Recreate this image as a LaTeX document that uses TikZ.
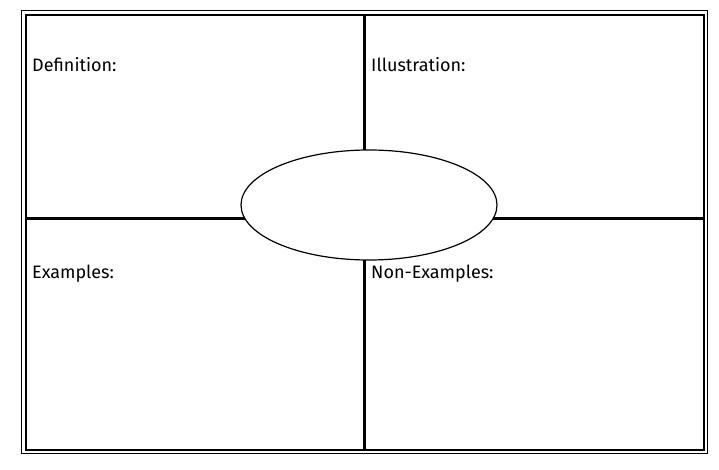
\documentclass[tikz,border=0pt]{standalone}
\usepackage{fontspec}
\setmainfont{Fira Sans}
\usetikzlibrary{shapes.geometric}
\begin{document}
\begin{tikzpicture}[x=1pt,y=-1pt,
  lbl/.style={anchor=base west,font=\fontsize{18}{20}\selectfont\mdseries,inner sep=0pt}]
\useasboundingbox[fill=white] (0,0) rectangle (719,470);
\draw[line width=1pt] (21.5,10.5) rectangle (707.5,453.5);
\draw[line width=2.6pt] (26,15) rectangle (704,450);
\draw[line width=3pt] (364.5,15) -- (364.5,450);
\draw[line width=3pt] (26,218.5) -- (704,218.5);
\node[draw,line width=1.2pt,fill=white,ellipse,minimum width=256pt,minimum height=110pt,inner sep=0pt] (c) at (369,205) {};
\node[lbl] (d) at (32,72) {Definition:};
\node[lbl] (i) at (371,72) {Illustration:};
\node[lbl] (e) at (32,278) {Examples:};
\node[lbl] (n) at (371,278) {Non-Examples:};
\end{tikzpicture}
\end{document}
